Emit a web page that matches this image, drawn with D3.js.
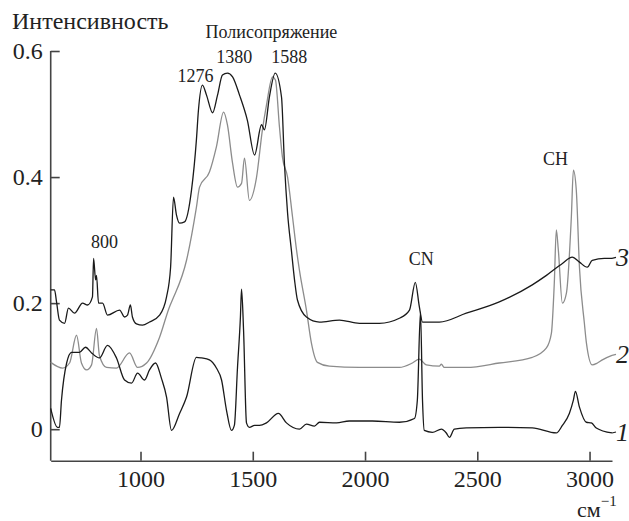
<!DOCTYPE html>
<html>
<head>
<meta charset="utf-8">
<script src="https://cdn.jsdelivr.net/npm/d3@7"></script>
<style>
  body { margin: 0; background: #fff; }
  text { font-family: "Liberation Serif", "Times New Roman", serif; fill: #222; }
</style>
</head>
<body>
<script>
// wavenumbers (cm-1) and intensities
var wn3 = [600, 617, 626, 639, 662, 679, 706, 742, 764, 786, 791, 800, 804, 813, 831, 853, 907, 929, 942, 955, 964, 982, 1009, 1040, 1085, 1116, 1134, 1147, 1160, 1174, 1196, 1227, 1249, 1258, 1276, 1294, 1321, 1343, 1365, 1387, 1410, 1441, 1476, 1508, 1539, 1552, 1574, 1600, 1628, 1641, 1655, 1672, 1686, 1699, 1739, 1797, 1886, 1975, 2064, 2153, 2198, 2224, 2242, 2256, 2331, 2451, 2598, 2745, 2808, 2879, 2923, 2955, 2990, 3012, 3066, 3100];
var int3 = [0.221, 0.221, 0.202, 0.173, 0.168, 0.192, 0.184, 0.200, 0.197, 0.210, 0.271, 0.237, 0.244, 0.200, 0.200, 0.181, 0.189, 0.178, 0.181, 0.197, 0.178, 0.167, 0.165, 0.170, 0.181, 0.210, 0.257, 0.368, 0.340, 0.327, 0.329, 0.379, 0.459, 0.506, 0.546, 0.530, 0.502, 0.530, 0.562, 0.565, 0.559, 0.530, 0.490, 0.435, 0.483, 0.475, 0.527, 0.565, 0.527, 0.422, 0.343, 0.284, 0.237, 0.205, 0.178, 0.170, 0.173, 0.168, 0.168, 0.176, 0.189, 0.233, 0.194, 0.170, 0.170, 0.184, 0.202, 0.229, 0.244, 0.263, 0.273, 0.265, 0.257, 0.268, 0.271, 0.271];

var wn2 = [600, 653, 684, 715, 737, 760, 782, 804, 817, 849, 893, 951, 987, 1027, 1085, 1129, 1142, 1205, 1249, 1263, 1307, 1338, 1370, 1387, 1410, 1432, 1450, 1463, 1485, 1516, 1543, 1561, 1588, 1601, 1619, 1632, 1655, 1677, 1695, 1708, 1739, 1761, 1788, 1841, 1975, 2153, 2211, 2242, 2273, 2331, 2340, 2353, 2451, 2598, 2745, 2808, 2830, 2843, 2852, 2861, 2879, 2897, 2919, 2928, 2941, 2955, 2977, 2986, 3012, 3035, 3057, 3100];
var int2 = [0.106, 0.097, 0.105, 0.149, 0.105, 0.094, 0.102, 0.160, 0.117, 0.098, 0.097, 0.121, 0.098, 0.105, 0.146, 0.194, 0.205, 0.268, 0.352, 0.384, 0.408, 0.448, 0.503, 0.483, 0.422, 0.384, 0.390, 0.430, 0.363, 0.398, 0.475, 0.514, 0.559, 0.554, 0.479, 0.432, 0.400, 0.337, 0.284, 0.252, 0.189, 0.137, 0.106, 0.100, 0.098, 0.098, 0.105, 0.111, 0.102, 0.100, 0.103, 0.098, 0.098, 0.105, 0.114, 0.129, 0.152, 0.232, 0.316, 0.284, 0.200, 0.216, 0.337, 0.411, 0.379, 0.257, 0.168, 0.137, 0.102, 0.105, 0.110, 0.117];

var wn1 = [600, 630, 639, 648, 671, 693, 728, 755, 782, 817, 853, 893, 929, 960, 987, 1018, 1040, 1067, 1093, 1116, 1138, 1174, 1205, 1249, 1272, 1307, 1338, 1361, 1383, 1405, 1418, 1432, 1445, 1450, 1459, 1472, 1485, 1508, 1530, 1561, 1614, 1650, 1708, 1739, 1775, 1797, 1873, 1930, 2033, 2153, 2220, 2233, 2247, 2256, 2264, 2300, 2340, 2362, 2376, 2398, 2451, 2598, 2745, 2852, 2879, 2910, 2928, 2937, 2955, 2986, 3008, 3030, 3100];
var int1 = [0.033, 0.003, 0.003, 0.046, 0.105, 0.122, 0.122, 0.130, 0.121, 0.113, 0.133, 0.113, 0.078, 0.073, 0.089, 0.078, 0.094, 0.105, 0.081, 0.051, -0.002, 0.025, 0.051, 0.114, 0.113, 0.110, 0.097, 0.078, 0.030, -0.002, 0.006, 0.098, 0.178, 0.222, 0.157, 0.010, 0.003, 0.006, 0.006, 0.010, 0.025, 0.010, 0.000, 0.008, 0.005, 0.011, 0.010, 0.013, 0.013, 0.011, 0.017, 0.046, 0.186, 0.046, -0.002, -0.005, 0.000, -0.006, -0.013, 0.000, 0.002, 0.003, 0.002, -0.006, 0.006, 0.025, 0.046, 0.060, 0.035, 0.011, 0.010, 0.002, -0.006];

var xTicks = [1000, 1500, 2000, 2500, 3000];
var yTicks = [0, 0.2, 0.4, 0.6];
var yTickLabels = ["0", "0.2", "0.4", "0.6"];

// peak annotations: [wavenumber, intensity, text]
var peakLabels = [[840, 0.287, "800"], [1245, 0.551, "1276"], [1418, 0.581, "1380"], [1663, 0.581, "1588"], [2251, 0.260, "CN"], [2848, 0.419, "CH"]];

var W = 629, H = 521;
var mLeft = 50.7, mRight = 612, mTop = 51, mBottom = 460.7;

var x = d3.scaleLinear().domain([600, 3100]).range([mLeft, mRight]);
var y = d3.scaleLinear().domain([-0.05, 0.6]).range([mBottom, mTop]);

var svg = d3.select("body").append("svg")
    .attr("width", W)
    .attr("height", H);

var xAxis = svg.append("g")
    .attr("transform", "translate(0," + mBottom + ")")
    .call(d3.axisBottom(x).tickValues(xTicks).tickSizeInner(-9).tickSizeOuter(0).tickPadding(9).tickFormat(d3.format("d")));

var yAxis = svg.append("g")
    .attr("transform", "translate(" + mLeft + ",0)")
    .call(d3.axisLeft(y).tickValues(yTicks).tickSizeInner(-9).tickSizeOuter(0).tickPadding(8)
        .tickFormat(function(d, i) { return yTickLabels[i]; }));

[xAxis, yAxis].forEach(function(g) {
  g.selectAll("path, line").attr("stroke", "#444").attr("stroke-width", 1.6);
  g.selectAll("text").attr("font-size", 24).attr("font-family", "Liberation Serif").attr("fill", "#222");
});
// y axis starts at the 0.6 tick
yAxis.select(".domain").attr("d", "M0," + y(0.6) + "V" + mBottom);

var line = d3.line()
    .curve(d3.curveMonotoneX)
    .x(function(d) { return x(d[0]); })
    .y(function(d) { return y(d[1]); });

var series = [
  {wn: wn2, val: int2, color: "#8c8c8c", label: "2"},
  {wn: wn1, val: int1, color: "#1a1a1a", label: "1"},
  {wn: wn3, val: int3, color: "#1a1a1a", label: "3"}
];

series.forEach(function(s) {
  var pts = d3.zip(s.wn, s.val);
  svg.append("path")
      .datum(pts)
      .attr("fill", "none")
      .attr("stroke", s.color)
      .attr("stroke-width", 1.3)
      .attr("stroke-linejoin", "round")
      .attr("d", line);
  var last = pts[pts.length - 1];
  svg.append("line")
      .attr("x1", x(last[0])).attr("y1", y(last[1]))
      .attr("x2", x(last[0]) + 4).attr("y2", y(last[1]) - 1)
      .attr("stroke", s.color).attr("stroke-width", 1.2);
  svg.append("text")
      .attr("x", x(last[0]) + 4)
      .attr("y", y(last[1]) + 8)
      .attr("font-size", 26)
      .attr("font-style", "italic")
      .text(s.label);
});

svg.selectAll(".peak")
  .data(peakLabels)
  .enter().append("text")
    .attr("class", "peak")
    .attr("x", function(d) { return x(d[0]); })
    .attr("y", function(d) { return y(d[1]); })
    .attr("text-anchor", "middle")
    .attr("font-size", 18)
    .text(function(d) { return d[2]; });

svg.append("text")
    .attr("x", x(1290))
    .attr("y", 38)
    .attr("font-size", 18)
    .text("Полисопряжение");

svg.append("text")
    .attr("x", 12)
    .attr("y", 29)
    .attr("font-size", 24)
    .text("Интенсивность");

var unit = svg.append("text")
    .attr("x", 577)
    .attr("y", 517)
    .attr("font-size", 22);
unit.append("tspan").text("см");
unit.append("tspan").attr("dy", -11).attr("font-size", 15).text("−1");
</script>
</body>
</html>
